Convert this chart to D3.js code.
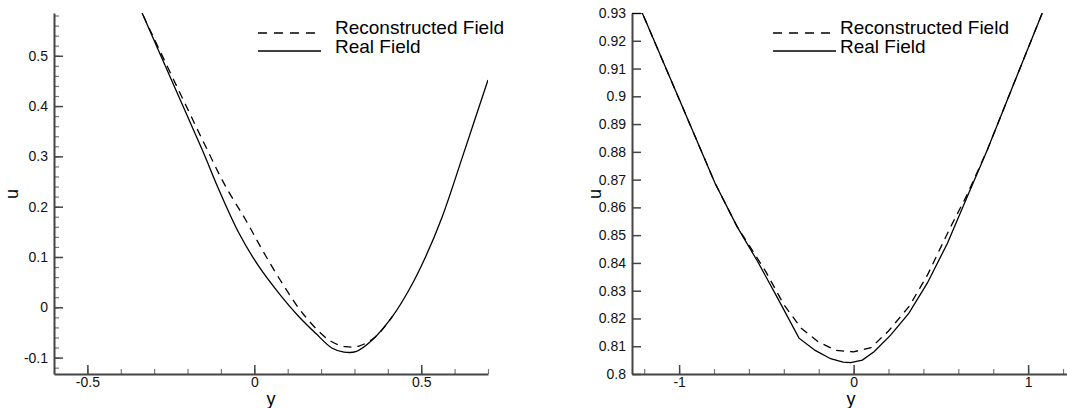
<!DOCTYPE html>
<html>
<head>
<meta charset="utf-8">
<style>
    body { margin: 0; background: #fff; }
    svg { display: block; font-family: "Liberation Sans", Arial, Helvetica, sans-serif; }
    .domain { stroke: #444; stroke-width: 2; }
    .tick line { stroke: #444; stroke-width: 1.5; }
    .minor .tick line { stroke: #777; stroke-width: 1.2; }
    .tick text { font-size: 14px; fill: #111; }
</style>
</head>
<body>
<svg width="1067" height="408"></svg>
<script src="https://d3js.org/d3.v7.min.js"></script>
<script>
    // left panel, y / u pairs
    var leftRealY = [-0.35, -0.336, -0.2464, -0.1557, -0.1057, -0.0458, 0.0141, 0.0739, 0.1338, 0.1838, 0.2335, 0.2686, 0.3036, 0.3533, 0.4132, 0.4632, 0.5132, 0.5629, 0.625, 0.7];
    var leftRealU = [0.606, 0.585, 0.4493, 0.3127, 0.2332, 0.1471, 0.0807, 0.0278, -0.0187, -0.0517, -0.0815, -0.089, -0.0883, -0.065, -0.0187, 0.0344, 0.1006, 0.1801, 0.302, 0.452];
    var leftRecY = [-0.35, -0.336, -0.3153, -0.1955, -0.1407, -0.0856, -0.0257, 0.024, 0.0838, 0.1488, 0.2237, 0.2737, 0.3135, 0.3635, 0.4132];
    var leftRecU = [0.606, 0.585, 0.5553, 0.3883, 0.3127, 0.2398, 0.1736, 0.1139, 0.0477, -0.0153, -0.065, -0.0783, -0.077, -0.0584, -0.0187];

    // right panel
    var rightRealY = [-1.27, -1.211, -1.0, -0.794, -0.667, -0.55, -0.437, -0.313, -0.22, -0.132, -0.06, -0.017, 0.05, 0.117, 0.212, 0.317, 0.422, 0.537, 0.651, 0.766, 0.919, 1.081];
    var rightRealU = [0.93, 0.93, 0.899, 0.8687, 0.853, 0.8405, 0.8275, 0.8129, 0.8085, 0.8055, 0.8043, 0.8041, 0.805, 0.808, 0.814, 0.8219, 0.8327, 0.847, 0.8638, 0.8807, 0.9047, 0.93];
    var rightRecY = [-1.27, -1.211, -1.0, -0.794, -0.667, -0.6, -0.5, -0.4, -0.3, -0.2, -0.1, 0.0, 0.1, 0.2, 0.32, 0.422, 0.556, 0.65, 0.766, 0.919, 1.081];
    var rightRecU = [0.93, 0.93, 0.899, 0.8687, 0.853, 0.8465, 0.8365, 0.825, 0.8165, 0.8115, 0.8085, 0.808, 0.8095, 0.8155, 0.8245, 0.8355, 0.853, 0.8645, 0.8807, 0.9047, 0.93];

    var leftYTicks = [-0.1, 0, 0.1, 0.2, 0.3, 0.4, 0.5];
    var leftXTicks = [-0.5, 0, 0.5];
    var rightYTicks = [0.8, 0.81, 0.82, 0.83, 0.84, 0.85, 0.86, 0.87, 0.88, 0.89, 0.9, 0.91, 0.92, 0.93];
    var rightXTicks = [-1, 0, 1];
    var legendLabels = ["Reconstructed Field", "Real Field"];

    var svg = d3.select("svg");

    function zip(xs, ys) {
        return xs.map(function (x, i) { return [x, ys[i]]; });
    }

    // plain hyphen minus, like the original
    function fmt(d) {
        return String(+d.toFixed(3));
    }

    function panel(opt) {
        var x = d3.scaleLinear().domain(opt.xDomain).range([opt.left, opt.right]);
        var y = d3.scaleLinear().domain(opt.yDomain).range([374, 13]);
        var g = svg.append("g");

        var clipId = "clip-" + opt.id;
        g.append("clipPath").attr("id", clipId)
            .append("rect")
            .attr("x", opt.left).attr("y", 13)
            .attr("width", opt.right - opt.left).attr("height", 361);

        // minor ticks first, major on top
        g.append("g").attr("class", "minor")
            .attr("transform", "translate(0,374)")
            .call(d3.axisBottom(x).tickValues(opt.xMinor).tickSize(-5).tickFormat(""))
            .select(".domain").remove();
        if (opt.yMinor) {
            g.append("g").attr("class", "minor")
                .attr("transform", "translate(" + opt.left + ",0)")
                .call(d3.axisLeft(y).tickValues(opt.yMinor).tickSize(-5).tickFormat(""))
                .select(".domain").remove();
        }

        g.append("g")
            .attr("transform", "translate(0,374)")
            .call(d3.axisBottom(x).tickValues(opt.xTicks).tickSize(-9).tickPadding(3).tickSizeOuter(0)
                .tickFormat(fmt));
        g.append("g")
            .attr("transform", "translate(" + opt.left + ",0)")
            .call(d3.axisLeft(y).tickValues(opt.yTicks).tickSize(-9).tickPadding(6).tickSizeOuter(0)
                .tickFormat(fmt));

        var line = d3.line()
            .x(function (d) { return x(d[0]); })
            .y(function (d) { return y(d[1]); })
            .curve(opt.curve);

        var lines = g.append("g").attr("clip-path", "url(#" + clipId + ")")
            .attr("fill", "none").attr("stroke", "#000").attr("stroke-width", 1.3);
        lines.append("path").attr("d", line(zip(opt.recY, opt.recU)))
            .attr("stroke-dasharray", "8,6");
        lines.append("path").attr("d", line(zip(opt.realY, opt.realU)));

        // axis titles
        g.append("text")
            .attr("x", (opt.left + opt.right) / 2).attr("y", 405)
            .attr("text-anchor", "middle").attr("font-size", 18).text("y");
        g.append("text")
            .attr("transform", "translate(" + opt.uX + ",194) rotate(-90)")
            .attr("text-anchor", "middle").attr("font-size", 18).text("u");

        // legend
        var lg = g.append("g").attr("transform", "translate(" + opt.legX + ",0)");
        lg.append("line").attr("x1", 0).attr("x2", 63).attr("y1", 33).attr("y2", 33)
            .attr("stroke", "#000").attr("stroke-width", 1.3).attr("stroke-dasharray", "9,7");
        lg.append("line").attr("x1", 0).attr("x2", 63).attr("y1", 51).attr("y2", 51)
            .attr("stroke", "#000").attr("stroke-width", 1.3);
        lg.selectAll("text.leg").data(legendLabels).enter().append("text")
            .attr("class", "leg")
            .attr("x", opt.legText)
            .attr("y", function (d, i) { return 34 + i * 19; })
            .attr("font-size", 19)
            .text(function (d) { return d; });
    }

    panel({
        id: "l", left: 54, right: 488,
        xDomain: [-0.6, 0.7], yDomain: [-0.1326, 0.585],
        xTicks: leftXTicks, yTicks: leftYTicks,
        xMinor: d3.range(-6, 8).map(function (i) { return i / 10; }),
        yMinor: d3.range(-6, 30).map(function (i) { return i / 50; }),
        realY: leftRealY, realU: leftRealU, recY: leftRecY, recU: leftRecU,
        curve: d3.curveCatmullRom.alpha(0.5),
        uX: 18, legX: 258, legText: 77
    });

    panel({
        id: "r", left: 632, right: 1070,
        xDomain: [-1.27, 1.24], yDomain: [0.8, 0.93],
        xTicks: rightXTicks, yTicks: rightYTicks,
        xMinor: d3.range(-6, 7).map(function (i) { return i / 5; }),
        yMinor: null,
        realY: rightRealY, realU: rightRealU, recY: rightRecY, recU: rightRecU,
        curve: d3.curveLinear,
        uX: 601, legX: 773, legText: 67
    });
</script>
</body>
</html>
